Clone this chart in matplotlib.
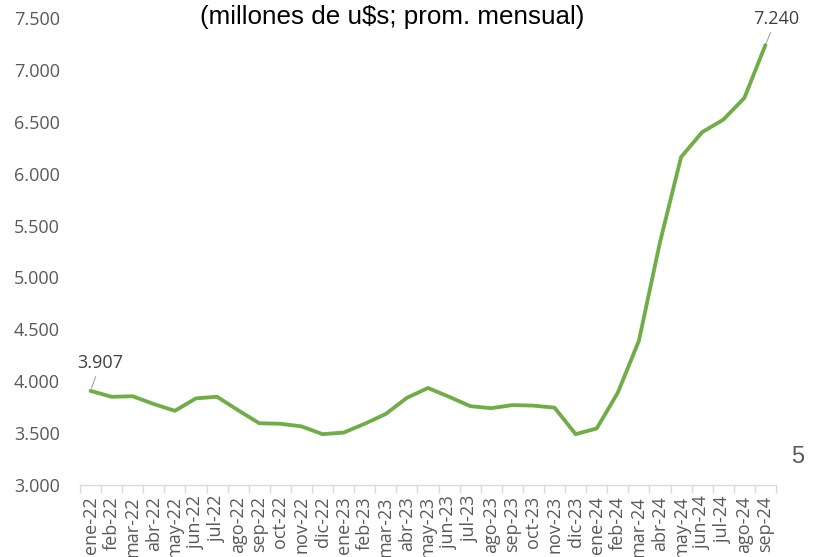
import matplotlib
matplotlib.use("Agg")
import matplotlib.pyplot as plt
from matplotlib.ticker import FuncFormatter, FixedLocator

months = ["ene-22", "feb-22", "mar-22", "abr-22", "may-22", "jun-22", "jul-22", "ago-22",
          "sep-22", "oct-22", "nov-22", "dic-22", "ene-23", "feb-23", "mar-23", "abr-23",
          "may-23", "jun-23", "jul-23", "ago-23", "sep-23", "oct-23", "nov-23", "dic-23",
          "ene-24", "feb-24", "mar-24", "abr-24", "may-24", "jun-24", "jul-24", "ago-24",
          "sep-24"]
values = [3907, 3850, 3855, 3780, 3715, 3835, 3850, 3720,
          3595, 3590, 3565, 3490, 3505, 3590, 3685, 3840,
          3935, 3850, 3760, 3740, 3770, 3765, 3745, 3490,
          3545, 3890, 4390, 5340, 6160, 6400, 6520, 6730,
          7240]
yticks = [3000, 3500, 4000, 4500, 5000, 5500, 6000, 6500, 7000, 7500]
title = "(millones de u$s; prom. mensual)"

def fmt(v, pos=None):
    return f"{int(round(v)):,}".replace(",", ".")

GRAY = "#595959"
fig = plt.figure(figsize=(8.14, 5.57), dpi=100)
ax = fig.add_axes([80/814, 1-485/557, 696/814, 467/557])
x = list(range(len(months)))
ax.plot(x, values, color="#70AD47", lw=2.75, solid_joinstyle="round", solid_capstyle="round", clip_on=False)

ax.set_xlim(-0.5, len(months) - 0.5)
ax.set_ylim(yticks[0], yticks[-1])
ax.set_yticks(yticks)
ax.yaxis.set_major_formatter(FuncFormatter(fmt))
ax.tick_params(axis="y", length=0, pad=14.4, labelsize=13, labelcolor=GRAY)
for lab in ax.get_yticklabels():
    lab.set_family("Open Sans")

ax.set_xticks(x)
ax.set_xticklabels(months, rotation=90, family="Open Sans", fontsize=13, color=GRAY)
ax.tick_params(axis="x", which="major", length=0, pad=8)
ax.xaxis.set_minor_locator(FixedLocator([i - 0.5 for i in range(len(months) + 1)]))
ax.tick_params(axis="x", which="minor", length=6, width=1, color="#D9D9D9")

for s in ["top", "right", "left"]:
    ax.spines[s].set_visible(False)
ax.spines["bottom"].set_color("#D9D9D9")
ax.spines["bottom"].set_linewidth(1)

# annotations
ax.annotate(fmt(values[0]), xy=(0, values[0]), xytext=(0.47, 4085),
            textcoords="data", ha="center", va="bottom", fontsize=13, color="#404040",
            family="Open Sans",
            arrowprops=dict(arrowstyle="-", color="#A6A6A6", lw=0.8, shrinkA=1, shrinkB=2))
ax.annotate(fmt(values[-1]), xy=(32, values[-1]), xytext=(32.5, 7400),
            textcoords="data", ha="center", va="bottom", fontsize=13, color="#404040",
            family="Open Sans", annotation_clip=False,
            arrowprops=dict(arrowstyle="-", color="#A6A6A6", lw=0.8, shrinkA=1, shrinkB=2))

fig.text(392/814, 1-17/557, title, ha="center", va="center", fontsize=18.7,
         family="Liberation Sans", color="black")
fig.text(798/814, 1-457/557, "5", ha="center", va="center", fontsize=17,
         family="Liberation Sans", color=GRAY)

fig.savefig("out.png", dpi=100)
